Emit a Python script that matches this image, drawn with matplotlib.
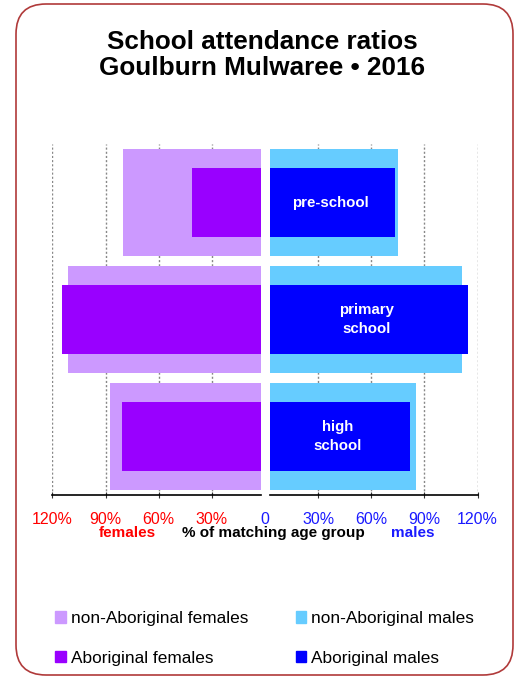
import matplotlib
matplotlib.use("Agg")
import matplotlib.pyplot as plt
from matplotlib.patches import FancyBboxPatch, Patch

plt.rcParams['font.family'] = ['Liberation Sans', 'DejaVu Sans']

categories = ["pre-school", "primary\nschool", "high\nschool"]
non_ab_females = [80.0, 111.2, 87.5]
ab_females = [41.2, 114.6, 80.7]
non_ab_males = [74.9, 111.0, 85.3]
ab_males = [73.4, 114.8, 81.9]
ticks = [30, 60, 90, 120]
tick_labels = ["30%", "60%", "90%", "120%"]

C_NAF, C_AF = "#cc99ff", "#9900ff"
C_NAM, C_AM = "#66ccff", "#0000ff"

W, H = 517, 676
fig = plt.figure(figsize=(W / 100, H / 100), dpi=100)

def px_box(x0, x1, ytop, ybot):
    return [x0 / W, 1 - ybot / H, (x1 - x0) / W, (ybot - ytop) / H]

axL = fig.add_axes(px_box(51.7, 261, 144, 495))
axR = fig.add_axes(px_box(270, 478.3, 144, 495))

y = list(range(len(categories)))
axL.barh(y, non_ab_females, height=0.91, color=C_NAF, zorder=2, linewidth=0)
axL.barh(y, ab_females, height=0.59, color=C_AF, zorder=3, linewidth=0)
axR.barh(y, non_ab_males, height=0.91, color=C_NAM, zorder=2, linewidth=0)
axR.barh(y, ab_males, height=0.59, color=C_AM, zorder=3, linewidth=0)

axL.set_xlim(120.4, 2.26)
axR.set_xlim(2.8, 120.4)

for ax, col in ((axL, "#ff0000"), (axR, "#1a1aff")):
    ax.set_ylim(2.5, -0.5)
    ax.set_yticks([])
    ax.set_xticks(ticks)
    ax.set_xticklabels(tick_labels)
    ax.tick_params(axis='x', colors='#333333', labelcolor=col, labelsize=11.5,
                   length=4, width=0.8, direction='inout', pad=10)
    for s in ("top", "left", "right"):
        ax.spines[s].set_visible(False)
    ax.spines["bottom"].set_color("black")
    ax.spines["bottom"].set_linewidth(1.2)
    ax.grid(axis='x', linestyle=(0, (1.5, 1.5)), color="#888888", linewidth=1, zorder=1)
    ax.set_axisbelow(True)
    ax.patch.set_alpha(0)

for i, lab in enumerate(categories):
    axR.text(ab_males[i] / 2, i, lab, ha='center', va='center', color='white',
             fontsize=10.8, fontweight='bold', linespacing=1.5, zorder=5)

fig.text(265 / W, 1 - 519.5 / H, "0", color="#1a1aff", fontsize=11.5, ha='center', va='center')
fig.text(127.5 / W, 1 - 533 / H, "females", color="#ff0000", fontsize=11, fontweight='bold',
         ha='center', va='center')
fig.text(273 / W, 1 - 533 / H, "% of matching age group", color="black", fontsize=11,
         fontweight='bold', ha='center', va='center')
fig.text(412.5 / W, 1 - 533 / H, "males", color="#1a1aff", fontsize=11, fontweight='bold',
         ha='center', va='center')

fig.text(262 / W, 1 - 55 / H, "School attendance ratios\nGoulburn Mulwaree \u2022 2016",
         fontsize=18.8, fontweight='bold', ha='center', va='center', linespacing=1.06)

handles = [Patch(color=C_NAF, label="non-Aboriginal females"),
           Patch(color=C_AF, label="Aboriginal females"),
           Patch(color=C_NAM, label="non-Aboriginal males"),
           Patch(color=C_AM, label="Aboriginal males")]
fig.legend(handles=handles, ncol=2, loc='upper left', bbox_to_anchor=(55 / W, 1 - 611 / H),
           frameon=False, fontsize=12.4, handlelength=0.62, handleheight=0.62,
           handletextpad=0.3, columnspacing=2.75, labelspacing=1.45, borderpad=0,
           borderaxespad=0)

border = FancyBboxPatch((0.16, 0.01), 4.97, 6.71, boxstyle="round,pad=0,rounding_size=0.3",
                        transform=fig.dpi_scale_trans, facecolor='none', edgecolor='#b03a3a',
                        linewidth=1.2)
fig.patches.append(border)

fig.savefig("out.png", dpi=100)
